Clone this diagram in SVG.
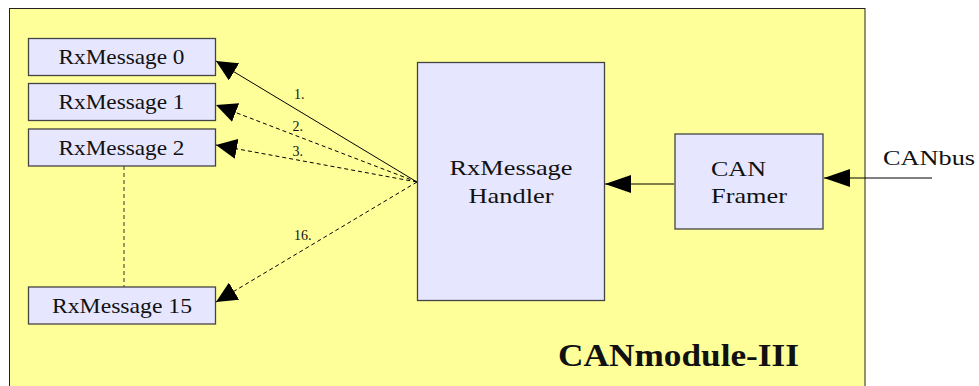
<svg xmlns="http://www.w3.org/2000/svg" width="979" height="386" viewBox="0 0 979 386">
<style>
.box{fill:#e6e6ff;stroke:#444;stroke-width:1.3}
.t{font-family:"Liberation Serif",serif;fill:#111;font-size:22px}
.lbl{font-family:"Liberation Serif",serif;fill:#111;font-size:14px}
.ttl{font-family:"Liberation Serif",serif;fill:#111;font-size:32px;font-weight:bold}
.ln{stroke:#000;stroke-width:1;fill:none}
.dash{stroke-dasharray:4,3}
</style>
<defs>
<marker id="ah" markerUnits="userSpaceOnUse" markerWidth="22" markerHeight="20" refX="21" refY="10" orient="auto" viewBox="0 0 22 20">
<path d="M21,10 L0,0 L0,20 Z" fill="#000"/>
</marker>
<marker id="ahb" markerUnits="userSpaceOnUse" markerWidth="27" markerHeight="18" refX="26" refY="9" orient="auto" viewBox="0 0 27 18">
<path d="M26,9 L0,0 L0,18 Z" fill="#000"/>
</marker>
</defs>
<rect width="979" height="386" fill="#fff"/>
<g id="module">
<rect x="9.5" y="8.5" width="855.5" height="400" fill="#ffff99" stroke="#222" stroke-width="1"/>
<text class="ttl" x="558" y="366" textLength="241" lengthAdjust="spacingAndGlyphs">CANmodule-III</text>
</g>
<g id="connectors">
<line class="ln" x1="124" y1="166" x2="124" y2="287" style="stroke-dasharray:4,3;stroke:#333"/>
<line class="ln" x1="417" y1="182" x2="216" y2="61" marker-end="url(#ah)"/>
<line class="ln dash" x1="417" y1="182" x2="216" y2="105" marker-end="url(#ah)"/>
<line class="ln dash" x1="417" y1="182" x2="216" y2="145" marker-end="url(#ah)"/>
<line class="ln dash" x1="417" y1="182" x2="216" y2="302" marker-end="url(#ah)"/>
<line class="ln" x1="674" y1="184" x2="605" y2="184" marker-end="url(#ahb)"/>
<line class="ln" x1="932" y1="178" x2="824" y2="178" marker-end="url(#ahb)"/>
<text class="lbl" x="294" y="99">1.</text>
<text class="lbl" x="292.5" y="131">2.</text>
<text class="lbl" x="292.5" y="156">3.</text>
<text class="lbl" x="294" y="240">16.</text>
<text class="t" x="883" y="165" font-size="23" textLength="92" lengthAdjust="spacingAndGlyphs">CANbus</text>
</g>
<g id="rx0">
<rect class="box" x="28.5" y="38.5" width="187" height="37"/>
<text class="t" x="58.5" y="64" textLength="126" lengthAdjust="spacingAndGlyphs">RxMessage 0</text>
</g>
<g id="rx1">
<rect class="box" x="28.5" y="83.5" width="187" height="37"/>
<text class="t" x="58.5" y="109" textLength="126" lengthAdjust="spacingAndGlyphs">RxMessage 1</text>
</g>
<g id="rx2">
<rect class="box" x="28.5" y="129" width="187" height="37"/>
<text class="t" x="58.5" y="154.5" textLength="126" lengthAdjust="spacingAndGlyphs">RxMessage 2</text>
</g>
<g id="rx15">
<rect class="box" x="28.5" y="287" width="187" height="37"/>
<text class="t" x="52" y="313" textLength="140" lengthAdjust="spacingAndGlyphs">RxMessage 15</text>
</g>
<g id="handler">
<rect class="box" x="417.5" y="62.5" width="187" height="238"/>
<text class="t" x="449.5" y="175" font-size="23" textLength="123" lengthAdjust="spacingAndGlyphs">RxMessage</text>
<text class="t" x="468.5" y="203" font-size="23" textLength="85" lengthAdjust="spacingAndGlyphs">Handler</text>
</g>
<g id="framer">
<rect class="box" x="675" y="134" width="148" height="95"/>
<text class="t" x="711" y="176" font-size="23" textLength="55" lengthAdjust="spacingAndGlyphs">CAN</text>
<text class="t" x="711" y="203" font-size="23" textLength="76" lengthAdjust="spacingAndGlyphs">Framer</text>
</g>
</svg>
